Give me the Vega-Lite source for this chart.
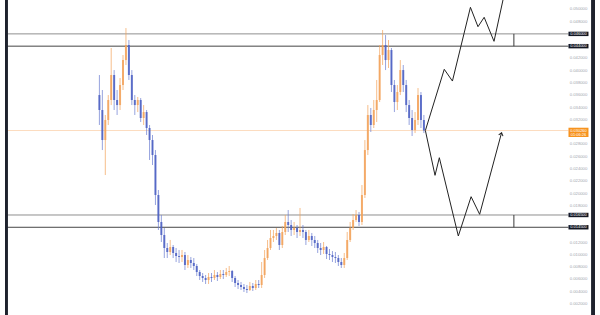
{
  "$schema": "https://vega.github.io/schema/vega-lite/v6.json",
  "width": 600,
  "height": 315,
  "autosize": {"type": "none"},
  "padding": 0,
  "background": "#ffffff",
  "config": {"view": {"stroke": null}},
  "datasets": {
    "candles": [
      {"t":0,"o":0.03604,"h":0.03930,"l":0.03116,"c":0.03360},
      {"t":1,"o":0.03360,"h":0.03686,"l":0.02708,"c":0.02871},
      {"t":2,"o":0.02871,"h":0.03279,"l":0.02301,"c":0.03197},
      {"t":3,"o":0.03197,"h":0.03604,"l":0.03116,"c":0.03523},
      {"t":4,"o":0.03523,"h":0.04370,"l":0.03441,"c":0.03930},
      {"t":5,"o":0.03930,"h":0.04011,"l":0.03360,"c":0.03523},
      {"t":6,"o":0.03523,"h":0.03686,"l":0.03279,"c":0.03441},
      {"t":7,"o":0.03441,"h":0.03881,"l":0.03360,"c":0.03767},
      {"t":8,"o":0.03767,"h":0.04256,"l":0.03686,"c":0.04174},
      {"t":9,"o":0.04174,"h":0.04695,"l":0.04093,"c":0.04419},
      {"t":10,"o":0.04419,"h":0.04500,"l":0.03849,"c":0.03930},
      {"t":11,"o":0.03930,"h":0.04011,"l":0.03441,"c":0.03523},
      {"t":12,"o":0.03523,"h":0.03604,"l":0.03279,"c":0.03441},
      {"t":13,"o":0.03441,"h":0.03572,"l":0.03327,"c":0.03523},
      {"t":14,"o":0.03523,"h":0.03555,"l":0.03165,"c":0.03230},
      {"t":15,"o":0.03230,"h":0.03441,"l":0.03116,"c":0.03327},
      {"t":16,"o":0.03327,"h":0.03360,"l":0.02953,"c":0.03067},
      {"t":17,"o":0.03067,"h":0.03116,"l":0.02546,"c":0.02871},
      {"t":18,"o":0.02871,"h":0.02953,"l":0.02464,"c":0.02627},
      {"t":19,"o":0.02627,"h":0.02708,"l":0.01813,"c":0.01976},
      {"t":20,"o":0.01976,"h":0.02057,"l":0.01406,"c":0.01536},
      {"t":21,"o":0.01536,"h":0.01650,"l":0.01210,"c":0.01324},
      {"t":22,"o":0.01324,"h":0.01438,"l":0.00949,"c":0.01112},
      {"t":23,"o":0.01112,"h":0.01194,"l":0.00949,"c":0.01047},
      {"t":24,"o":0.01047,"h":0.01243,"l":0.00998,"c":0.01129},
      {"t":25,"o":0.01129,"h":0.01161,"l":0.00949,"c":0.01031},
      {"t":26,"o":0.01031,"h":0.01112,"l":0.00884,"c":0.00982},
      {"t":27,"o":0.00982,"h":0.01080,"l":0.00868,"c":0.00966},
      {"t":28,"o":0.00966,"h":0.01080,"l":0.00884,"c":0.00998},
      {"t":29,"o":0.00998,"h":0.01047,"l":0.00754,"c":0.00835},
      {"t":30,"o":0.00835,"h":0.00998,"l":0.00787,"c":0.00917},
      {"t":31,"o":0.00917,"h":0.00966,"l":0.00787,"c":0.00868},
      {"t":32,"o":0.00868,"h":0.00949,"l":0.00754,"c":0.00819},
      {"t":33,"o":0.00819,"h":0.00852,"l":0.00656,"c":0.00721},
      {"t":34,"o":0.00721,"h":0.00754,"l":0.00591,"c":0.00656},
      {"t":35,"o":0.00656,"h":0.00705,"l":0.00559,"c":0.00624},
      {"t":36,"o":0.00624,"h":0.00673,"l":0.00526,"c":0.00591},
      {"t":37,"o":0.00591,"h":0.00705,"l":0.00526,"c":0.00640},
      {"t":38,"o":0.00640,"h":0.00705,"l":0.00559,"c":0.00624},
      {"t":39,"o":0.00624,"h":0.00754,"l":0.00591,"c":0.00673},
      {"t":40,"o":0.00673,"h":0.00721,"l":0.00575,"c":0.00640},
      {"t":41,"o":0.00640,"h":0.00754,"l":0.00607,"c":0.00689},
      {"t":42,"o":0.00689,"h":0.00754,"l":0.00607,"c":0.00673},
      {"t":43,"o":0.00673,"h":0.00787,"l":0.00640,"c":0.00721},
      {"t":44,"o":0.00721,"h":0.00819,"l":0.00656,"c":0.00738},
      {"t":45,"o":0.00738,"h":0.00754,"l":0.00559,"c":0.00624},
      {"t":46,"o":0.00624,"h":0.00656,"l":0.00477,"c":0.00542},
      {"t":47,"o":0.00542,"h":0.00591,"l":0.00445,"c":0.00510},
      {"t":48,"o":0.00510,"h":0.00559,"l":0.00428,"c":0.00477},
      {"t":49,"o":0.00477,"h":0.00526,"l":0.00396,"c":0.00445},
      {"t":50,"o":0.00445,"h":0.00510,"l":0.00379,"c":0.00428},
      {"t":51,"o":0.00428,"h":0.00559,"l":0.00412,"c":0.00493},
      {"t":52,"o":0.00493,"h":0.00542,"l":0.00412,"c":0.00461},
      {"t":53,"o":0.00461,"h":0.00591,"l":0.00428,"c":0.00526},
      {"t":54,"o":0.00526,"h":0.00591,"l":0.00461,"c":0.00510},
      {"t":55,"o":0.00510,"h":0.00884,"l":0.00461,"c":0.00673},
      {"t":56,"o":0.00673,"h":0.01080,"l":0.00624,"c":0.00949},
      {"t":57,"o":0.00949,"h":0.01243,"l":0.00917,"c":0.01112},
      {"t":58,"o":0.01112,"h":0.01406,"l":0.01080,"c":0.01275},
      {"t":59,"o":0.01275,"h":0.01406,"l":0.01210,"c":0.01308},
      {"t":60,"o":0.01308,"h":0.01438,"l":0.01243,"c":0.01357},
      {"t":61,"o":0.01357,"h":0.01406,"l":0.01080,"c":0.01161},
      {"t":62,"o":0.01161,"h":0.01471,"l":0.01112,"c":0.01373},
      {"t":63,"o":0.01373,"h":0.01650,"l":0.01324,"c":0.01536},
      {"t":64,"o":0.01536,"h":0.01731,"l":0.01373,"c":0.01487},
      {"t":65,"o":0.01487,"h":0.01568,"l":0.01308,"c":0.01406},
      {"t":66,"o":0.01406,"h":0.01536,"l":0.01324,"c":0.01438},
      {"t":67,"o":0.01438,"h":0.01487,"l":0.01275,"c":0.01373},
      {"t":68,"o":0.01373,"h":0.01764,"l":0.01308,"c":0.01406},
      {"t":69,"o":0.01406,"h":0.01487,"l":0.01275,"c":0.01373},
      {"t":70,"o":0.01373,"h":0.01406,"l":0.01161,"c":0.01243},
      {"t":71,"o":0.01243,"h":0.01406,"l":0.01210,"c":0.01308},
      {"t":72,"o":0.01308,"h":0.01357,"l":0.01145,"c":0.01243},
      {"t":73,"o":0.01243,"h":0.01308,"l":0.01112,"c":0.01194},
      {"t":74,"o":0.01194,"h":0.01243,"l":0.01031,"c":0.01112},
      {"t":75,"o":0.01112,"h":0.01194,"l":0.00998,"c":0.01080},
      {"t":76,"o":0.01080,"h":0.01210,"l":0.01015,"c":0.01129},
      {"t":77,"o":0.01129,"h":0.01145,"l":0.00933,"c":0.01015},
      {"t":78,"o":0.01015,"h":0.01096,"l":0.00917,"c":0.00998},
      {"t":79,"o":0.00998,"h":0.01063,"l":0.00884,"c":0.00966},
      {"t":80,"o":0.00966,"h":0.01047,"l":0.00868,"c":0.00949},
      {"t":81,"o":0.00949,"h":0.00998,"l":0.00819,"c":0.00884},
      {"t":82,"o":0.00884,"h":0.00949,"l":0.00787,"c":0.00835},
      {"t":83,"o":0.00835,"h":0.01031,"l":0.00787,"c":0.00949},
      {"t":84,"o":0.00949,"h":0.01373,"l":0.00917,"c":0.01243},
      {"t":85,"o":0.01243,"h":0.01536,"l":0.01210,"c":0.01438},
      {"t":86,"o":0.01438,"h":0.01666,"l":0.01406,"c":0.01568},
      {"t":87,"o":0.01568,"h":0.01731,"l":0.01536,"c":0.01650},
      {"t":88,"o":0.01650,"h":0.01699,"l":0.01471,"c":0.01536},
      {"t":89,"o":0.01536,"h":0.02138,"l":0.01487,"c":0.01976},
      {"t":90,"o":0.01976,"h":0.02871,"l":0.01927,"c":0.02708},
      {"t":91,"o":0.02708,"h":0.03441,"l":0.02627,"c":0.03279},
      {"t":92,"o":0.03279,"h":0.03393,"l":0.03002,"c":0.03116},
      {"t":93,"o":0.03116,"h":0.03523,"l":0.03067,"c":0.03360},
      {"t":94,"o":0.03360,"h":0.03849,"l":0.03165,"c":0.03523},
      {"t":95,"o":0.03523,"h":0.04419,"l":0.03490,"c":0.04256},
      {"t":96,"o":0.04256,"h":0.04663,"l":0.04093,"c":0.04419},
      {"t":97,"o":0.04419,"h":0.04581,"l":0.04011,"c":0.04174},
      {"t":98,"o":0.04174,"h":0.04500,"l":0.04044,"c":0.04337},
      {"t":99,"o":0.04337,"h":0.04370,"l":0.03653,"c":0.03767},
      {"t":100,"o":0.03767,"h":0.03849,"l":0.03327,"c":0.03490},
      {"t":101,"o":0.03490,"h":0.03767,"l":0.03360,"c":0.03653},
      {"t":102,"o":0.03653,"h":0.04174,"l":0.03604,"c":0.04011},
      {"t":103,"o":0.04011,"h":0.04093,"l":0.03653,"c":0.03767},
      {"t":104,"o":0.03767,"h":0.03849,"l":0.03327,"c":0.03441},
      {"t":105,"o":0.03441,"h":0.03523,"l":0.03116,"c":0.03230},
      {"t":106,"o":0.03230,"h":0.03360,"l":0.02937,"c":0.03034},
      {"t":107,"o":0.03034,"h":0.03327,"l":0.02985,"c":0.03197},
      {"t":108,"o":0.03197,"h":0.03718,"l":0.03116,"c":0.03604},
      {"t":109,"o":0.03604,"h":0.03653,"l":0.03067,"c":0.03197},
      {"t":110,"o":0.03197,"h":0.03279,"l":0.02985,"c":0.03026}
    ],
    "levels": [
      {"v":0.046,"lab":"0.046000","g":"a"},
      {"v":0.044,"lab":"0.044000","g":"b"},
      {"v":0.0165,"lab":"0.016500","g":"a"},
      {"v":0.0145,"lab":"0.014500","g":"b"}
    ],
    "zones": [
      {"t":140.5,"lo":0.044,"hi":0.046},
      {"t":140.5,"lo":0.0145,"hi":0.0165}
    ],
    "proj": [
      {"p":"up","i":0,"t":110.5,"v":0.03026},
      {"p":"up","i":1,"t":116.9,"v":0.04023},
      {"p":"up","i":2,"t":119.67,"v":0.03832},
      {"p":"up","i":3,"t":125.77,"v":0.05033},
      {"p":"up","i":4,"t":128.33,"v":0.04717},
      {"p":"up","i":5,"t":130.43,"v":0.04870},
      {"p":"up","i":6,"t":133.77,"v":0.04479},
      {"p":"up","i":7,"t":137.17,"v":0.05233},
      {"p":"down","i":0,"t":110.5,"v":0.03026},
      {"p":"down","i":1,"t":113.77,"v":0.02296},
      {"p":"down","i":2,"t":115.23,"v":0.02583},
      {"p":"down","i":3,"t":121.67,"v":0.01308},
      {"p":"down","i":4,"t":126.0,"v":0.01948},
      {"p":"down","i":5,"t":128.9,"v":0.01661},
      {"p":"down","i":6,"t":136.33,"v":0.02990}
    ],
    "arrow": [{"t":136.33,"v":0.02990}],
    "last": [{"v":0.03026,"lab":"0.030260","timer":"01:06:26"}],
    "ticks": [
      {"v":0.050},{"v":0.048},{"v":0.042},{"v":0.040},{"v":0.038},{"v":0.036},{"v":0.034},{"v":0.032},
      {"v":0.028},{"v":0.026},{"v":0.024},{"v":0.022},{"v":0.020},{"v":0.018},
      {"v":0.012},{"v":0.010},{"v":0.008},{"v":0.006},{"v":0.004},{"v":0.002}
    ]
  },
  "layer": [
    {
      "data": {"name": "levels"},
      "mark": {"type": "rule", "strokeWidth": 1},
      "encoding": {
        "x": {"datum": -32, "type": "quantitative", "scale": {"domain": [-32, 168], "nice": false, "zero": false}, "axis": null},
        "x2": {"datum": 159},
        "y": {"field": "v", "type": "quantitative", "scale": {"domain": [0.00021, 0.05152], "nice": false, "zero": false}, "axis": null},
        "color": {"field": "g", "type": "nominal", "scale": {"domain": ["a", "b"], "range": ["#8f8f8f", "#454545"]}, "legend": null}
      }
    },
    {
      "data": {"name": "ticks"},
      "mark": {"type": "text", "fontSize": 4.2, "font": "Liberation Sans", "color": "#a3a6ae", "align": "center", "baseline": "middle"},
      "encoding": {
        "x": {"datum": 162.4, "type": "quantitative", "scale": {"domain": [-32, 168], "nice": false, "zero": false}, "axis": null},
        "y": {"field": "v", "type": "quantitative", "scale": {"domain": [0.00021, 0.05152], "nice": false, "zero": false}, "axis": null},
        "text": {"field": "v", "type": "quantitative", "format": ".6f"}
      }
    },
    {
      "data": {"name": "zones"},
      "mark": {"type": "rule", "strokeWidth": 1, "color": "#3a3a3a"},
      "encoding": {
        "x": {"field": "t", "type": "quantitative", "scale": {"domain": [-32, 168], "nice": false, "zero": false}, "axis": null},
        "y": {"field": "lo", "type": "quantitative", "scale": {"domain": [0.00021, 0.05152], "nice": false, "zero": false}, "axis": null},
        "y2": {"field": "hi"}
      }
    },
    {
      "data": {"name": "last"},
      "mark": {"type": "rule", "strokeWidth": 1, "color": "#fcdcbf"},
      "encoding": {
        "x": {"datum": -32, "type": "quantitative", "scale": {"domain": [-32, 168], "nice": false, "zero": false}, "axis": null},
        "x2": {"datum": 159},
        "y": {"field": "v", "type": "quantitative", "scale": {"domain": [0.00021, 0.05152], "nice": false, "zero": false}, "axis": null}
      }
    },
    {
      "data": {"name": "candles"},
      "mark": {"type": "rule", "strokeWidth": 1, "opacity": 0.7},
      "encoding": {
        "x": {"field": "t", "type": "quantitative", "scale": {"domain": [-32, 168], "nice": false, "zero": false}, "axis": null},
        "y": {"field": "l", "type": "quantitative", "scale": {"domain": [0.00021, 0.05152], "nice": false, "zero": false}, "axis": null},
        "y2": {"field": "h"},
        "color": {"condition": {"test": "datum.c >= datum.o", "value": "#f2a25a"}, "value": "#6a7cd0"}
      }
    },
    {
      "data": {"name": "candles"},
      "mark": {"type": "bar", "size": 2, "opacity": 0.85},
      "encoding": {
        "x": {"field": "t", "type": "quantitative", "scale": {"domain": [-32, 168], "nice": false, "zero": false}, "axis": null},
        "y": {"field": "o", "type": "quantitative", "scale": {"domain": [0.00021, 0.05152], "nice": false, "zero": false}, "axis": null},
        "y2": {"field": "c"},
        "color": {"condition": {"test": "datum.c >= datum.o", "value": "#f2a25a"}, "value": "#4a5ec2"}
      }
    },
    {
      "data": {"name": "proj"},
      "mark": {"type": "line", "strokeWidth": 1, "color": "#222222", "clip": true},
      "encoding": {
        "x": {"field": "t", "type": "quantitative", "scale": {"domain": [-32, 168], "nice": false, "zero": false}, "axis": null},
        "y": {"field": "v", "type": "quantitative", "scale": {"domain": [0.00021, 0.05152], "nice": false, "zero": false}, "axis": null},
        "detail": {"field": "p", "type": "nominal"},
        "order": {"field": "i", "type": "quantitative"}
      }
    },
    {
      "data": {"name": "arrow"},
      "mark": {"type": "point", "shape": "M-1,1.3L0,0L1,1.3", "filled": false, "stroke": "#222222", "strokeWidth": 1, "size": 20, "angle": 15, "opacity": 1},
      "encoding": {
        "x": {"field": "t", "type": "quantitative", "scale": {"domain": [-32, 168], "nice": false, "zero": false}, "axis": null},
        "y": {"field": "v", "type": "quantitative", "scale": {"domain": [0.00021, 0.05152], "nice": false, "zero": false}, "axis": null}
      }
    },
    {
      "data": {"name": "levels"},
      "mark": {"type": "point", "shape": "M-1,-0.22H1V0.22H-1Z", "filled": true, "size": 400, "color": "#131722", "opacity": 1},
      "encoding": {
        "x": {"datum": 162.4, "type": "quantitative", "scale": {"domain": [-32, 168], "nice": false, "zero": false}, "axis": null},
        "y": {"field": "v", "type": "quantitative", "scale": {"domain": [0.00021, 0.05152], "nice": false, "zero": false}, "axis": null}
      }
    },
    {
      "data": {"name": "levels"},
      "mark": {"type": "text", "fontSize": 4, "font": "Liberation Sans", "color": "#ffffff", "align": "center", "baseline": "middle"},
      "encoding": {
        "x": {"datum": 162.4, "type": "quantitative", "scale": {"domain": [-32, 168], "nice": false, "zero": false}, "axis": null},
        "y": {"field": "v", "type": "quantitative", "scale": {"domain": [0.00021, 0.05152], "nice": false, "zero": false}, "axis": null},
        "text": {"field": "lab"}
      }
    },
    {
      "data": {"name": "last"},
      "mark": {"type": "point", "shape": "M-1,-0.28H1V0.65H-1Z", "filled": true, "size": 400, "color": "#f7931e", "opacity": 1},
      "encoding": {
        "x": {"datum": 162.4, "type": "quantitative", "scale": {"domain": [-32, 168], "nice": false, "zero": false}, "axis": null},
        "y": {"field": "v", "type": "quantitative", "scale": {"domain": [0.00021, 0.05152], "nice": false, "zero": false}, "axis": null}
      }
    },
    {
      "data": {"name": "last"},
      "mark": {"type": "text", "fontSize": 4, "font": "Liberation Sans", "color": "#ffffff", "align": "center", "baseline": "middle"},
      "encoding": {
        "x": {"datum": 162.4, "type": "quantitative", "scale": {"domain": [-32, 168], "nice": false, "zero": false}, "axis": null},
        "y": {"field": "v", "type": "quantitative", "scale": {"domain": [0.00021, 0.05152], "nice": false, "zero": false}, "axis": null},
        "text": {"field": "lab"}
      }
    },
    {
      "data": {"name": "last"},
      "mark": {"type": "text", "fontSize": 4, "font": "Liberation Sans", "color": "#ffffff", "align": "center", "baseline": "middle", "dy": 4},
      "encoding": {
        "x": {"datum": 162.4, "type": "quantitative", "scale": {"domain": [-32, 168], "nice": false, "zero": false}, "axis": null},
        "y": {"field": "v", "type": "quantitative", "scale": {"domain": [0.00021, 0.05152], "nice": false, "zero": false}, "axis": null},
        "text": {"field": "timer"}
      }
    },
    {
      "data": {"values": [{"side": "left"}]},
      "mark": {"type": "rect", "color": "#1e222d"},
      "encoding": {
        "x": {"datum": -32, "type": "quantitative", "scale": {"domain": [-32, 168], "nice": false, "zero": false}, "axis": null},
        "x2": {"datum": -31},
        "y": {"datum": 0.00021, "type": "quantitative", "scale": {"domain": [0.00021, 0.05152], "nice": false, "zero": false}, "axis": null},
        "y2": {"datum": 0.05152}
      }
    },
    {
      "data": {"values": [{"side": "right"}]},
      "mark": {"type": "rect", "color": "#1e222d"},
      "encoding": {
        "x": {"datum": 166.67, "type": "quantitative", "scale": {"domain": [-32, 168], "nice": false, "zero": false}, "axis": null},
        "x2": {"datum": 168},
        "y": {"datum": 0.00021, "type": "quantitative", "scale": {"domain": [0.00021, 0.05152], "nice": false, "zero": false}, "axis": null},
        "y2": {"datum": 0.05152}
      }
    }
  ]
}
